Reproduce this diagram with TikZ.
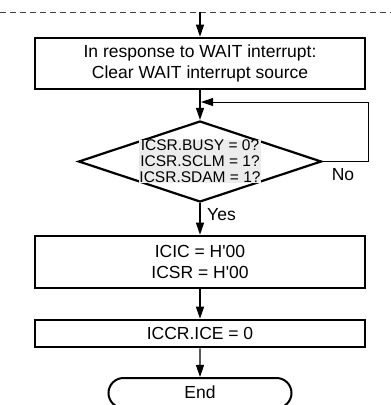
\documentclass[tikz,border=0pt]{standalone}
\usepackage{fontspec}
\setmainfont{Liberation Sans}
\usetikzlibrary{arrows.meta,shapes.geometric,shapes.misc}
\tikzset{>={Triangle[width=8pt,length=12pt]}}
\tikzset{
  stepbox/.style={draw, line width=2.6pt, minimum width=330pt, inner sep=0pt,
    align=center, font=\fontsize{17.5}{21.5}\selectfont},
  decide/.style={draw, diamond, line width=2.2pt, minimum width=243pt,
    minimum height=81pt, inner sep=0pt},
  cond/.style={fill=gray!15, inner sep=0.5pt, align=center,
    font=\fontsize{15.5}{16}\selectfont},
  term/.style={draw, rounded rectangle, line width=2pt, minimum width=183pt,
    minimum height=30pt, inner sep=0pt, font=\fontsize{17.5}{21.5}\selectfont},
  lbl/.style={inner sep=0pt, font=\fontsize{17.5}{21.5}\selectfont},
  flow/.style={->, line width=1.2pt},
}

\begin{document}
\begin{tikzpicture}[x=1pt, y=-1pt]
  \useasboundingbox (0,0) rectangle (391,405);

  % entry from the previous page
  \coordinate (left) at (0,12);
  \coordinate (right) at (391,12);
  \coordinate (top) at (200,12);
  \draw[line width=1pt, black!75, dash pattern=on 6pt off 4pt] (left) -- (right);

  \node[stepbox, minimum height=51pt] (s1) at (200,63.5)
    {In response to WAIT interrupt:\\Clear WAIT interrupt source};
  \node[decide] (q) at (200,161.5) {};
  \node[cond] (qtxt) at (q) {ICSR.BUSY = 0?\\ICSR.SCLM = 1?\\ICSR.SDAM = 1?};
  \node[stepbox, minimum height=52pt] (s2) at (200,262)
    {ICIC = H\textquotesingle 00\\ICSR = H\textquotesingle 00};
  \node[stepbox, minimum height=27pt] (s3) at (200,333.5) {ICCR.ICE = 0};
  \node[term] (end) at (200,393) {\raisebox{2pt}{End}};

  \draw[flow] (top) -- (s1); %% page -> s1
  \draw[flow] (s1) -- (q);   %% s1 -> q

  % retry loop
  \coordinate (loopc) at (368,102);
  \coordinate (join) at (201,102);
  \draw[->, line width=1pt] (q.east) -| (loopc) -- (join); %% q -> q
  \node[lbl, anchor=north] (no) at (343,168) {No};

  \draw[flow] (q) -- (s2);   %% q -> s2
  \node[lbl, anchor=west] (yes) at (207,215) {Yes};
  \draw[flow] (s2) -- (s3);  %% s2 -> s3
  \draw[flow] (s3) -- (end); %% s3 -> end

\end{tikzpicture}
\end{document}
